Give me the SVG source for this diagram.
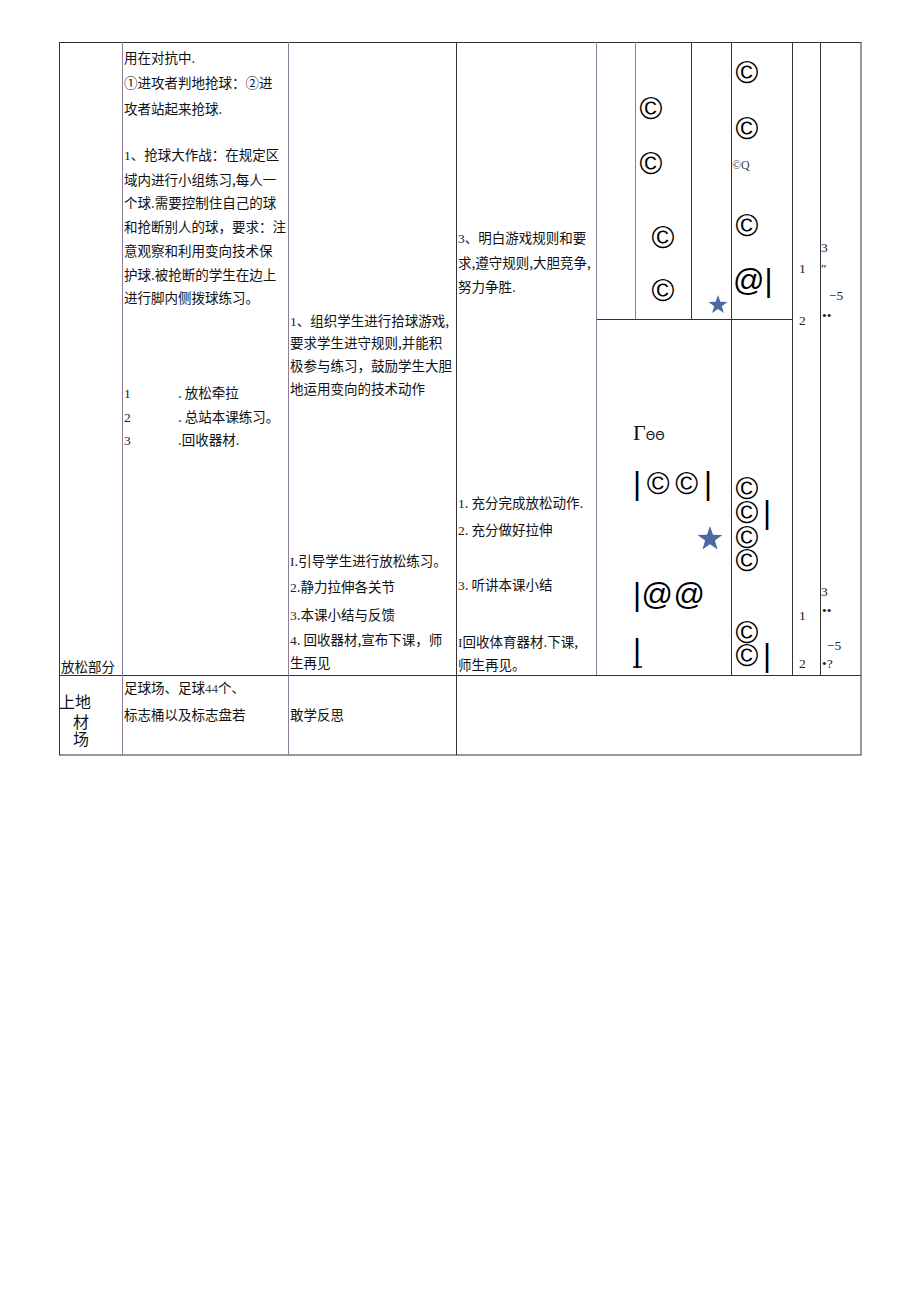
<svg xmlns="http://www.w3.org/2000/svg" width="920" height="1301" viewBox="0 0 920 1301">
<style>
.t{font-family:"Noto Sans CJK SC","Noto Sans",sans-serif;font-size:13.5px;fill:#111}
.s{font-family:"Liberation Serif",serif;font-size:13.5px;fill:#222}
.g{font-family:"Liberation Serif",serif;font-size:13px;fill:#444}
.c{font-family:"Liberation Sans",sans-serif;font-size:31px;fill:#000}
.ln{stroke:#333;stroke-width:1;fill:none}
.lp{stroke:#8e7d98;stroke-width:1;fill:none}
.star{fill:#4a6aa3}
</style>
<rect width="920" height="1301" fill="#fff"/>
<g id="connectors">
<rect class="ln" x="59.5" y="42.5" width="801.5" height="712.5"/>
<line class="ln" x1="59" y1="675.5" x2="861" y2="675.5"/>
<line class="ln" x1="596" y1="319.5" x2="792" y2="319.5"/>
<line class="lp" x1="122.5" y1="42" x2="122.5" y2="755"/>
<line class="lp" x1="288.5" y1="42" x2="288.5" y2="755"/>
<line class="ln" x1="456.5" y1="42" x2="456.5" y2="755"/>
<line class="lp" x1="596.5" y1="42" x2="596.5" y2="675"/>
<line class="lp" x1="635.5" y1="42" x2="635.5" y2="319"/>
<line class="ln" x1="691.5" y1="42" x2="691.5" y2="319"/>
<line class="ln" x1="731.5" y1="42" x2="731.5" y2="675"/>
<line class="ln" x1="792.5" y1="42" x2="792.5" y2="675"/>
<line class="ln" x1="820.5" y1="42" x2="820.5" y2="675"/>
</g>
<g id="col-content">
<text class="t" x="124" y="63">用在对抗中.</text>
<text class="t" x="124" y="88">①进攻者判地抢球：②进</text>
<text class="t" x="124" y="114">攻者站起来抢球.</text>
<text class="t" x="124" y="160"><tspan class="s">1</tspan>、抢球大作战：在规定区</text>
<text class="t" x="124" y="185">域内进行小组练习,每人一</text>
<text class="t" x="124" y="208">个球.需要控制住自己的球</text>
<text class="t" x="124" y="232">和抢断别人的球，要求：注</text>
<text class="t" x="124" y="256">意观察和利用变向技术保</text>
<text class="t" x="124" y="280">护球.被抢断的学生在边上</text>
<text class="t" x="124" y="303">进行脚内侧拨球练习。</text>
<text class="s" x="124" y="398">1</text><text class="t" x="178" y="398">. 放松牵拉</text>
<text class="s" x="124" y="422">2</text><text class="t" x="178" y="422">. 总站本课练习。</text>
<text class="s" x="124" y="445">3</text><text class="t" x="178" y="445">.回收器材.</text>
</g>
<g id="col-section">
<text class="t" x="61" y="672">放松部分</text>
</g>
<g id="col-teacher">
<text class="t" x="290" y="326"><tspan class="s">1</tspan>、组织学生进行拾球游戏,</text>
<text class="t" x="290" y="348">要求学生进守规则,并能积</text>
<text class="t" x="290" y="371">极参与练习，鼓励学生大胆</text>
<text class="t" x="290" y="394">地运用变向的技术动作</text>
<text class="t" x="290" y="566"><tspan class="s">I</tspan>.引导学生进行放松练习。</text>
<text class="t" x="290" y="592"><tspan class="s">2</tspan>.静力拉伸各关节</text>
<text class="t" x="290" y="620"><tspan class="s">3</tspan>.本课小结与反馈</text>
<text class="t" x="290" y="645"><tspan class="s">4</tspan>. 回收器材,宣布下课，师</text>
<text class="t" x="290" y="668">生再见</text>
</g>
<g id="col-student">
<text class="t" x="458" y="243"><tspan class="s">3</tspan>、明白游戏规则和要</text>
<text class="t" x="458" y="268">求,遵守规则,大胆竞争,</text>
<text class="t" x="458" y="292">努力争胜.</text>
<text class="t" x="458" y="508"><tspan class="s">1</tspan>. 充分完成放松动作.</text>
<text class="t" x="458" y="535"><tspan class="s">2</tspan>. 充分做好拉伸</text>
<text class="t" x="458" y="590"><tspan class="s">3</tspan>. 听讲本课小结</text>
<text class="t" x="458" y="647"><tspan class="s">I</tspan>回收体育器材.下课,</text>
<text class="t" x="458" y="670">师生再见。</text>
</g>
<g id="diagram-top">
<text class="c" x="651" y="119" text-anchor="middle">©</text>
<text class="c" x="651" y="174" text-anchor="middle">©</text>
<text class="c" x="663" y="248" text-anchor="middle">©</text>
<text class="c" x="663" y="301" text-anchor="middle">©</text>
<path class="star" transform="translate(718,305)" d="M0,-10 L2.35,-3.2 9.5,-3.1 3.8,1.2 5.9,8.1 0,4 -5.9,8.1 -3.8,1.2 -9.5,-3.1 -2.35,-3.2Z"/>
<text class="c" x="747" y="83" text-anchor="middle">©</text>
<text class="c" x="747" y="139" text-anchor="middle">©</text>
<text class="g" x="732" y="169" style="font-size:12px">©Q</text>
<text class="c" x="747" y="236" text-anchor="middle">©</text>
<text class="c" x="733" y="291">@|</text>
</g>
<g id="diagram-bottom">
<text x="633" y="440" style="font-family:'Liberation Serif',serif;font-size:22px;fill:#111">Γ<tspan style="font-family:'DejaVu Sans',sans-serif;font-size:12px">ΘΘ</tspan></text>
<text class="c" x="633" y="494" textLength="79" lengthAdjust="spacing">|©©|</text>
<path class="star" transform="translate(710,539)" d="M0,-13 L3.05,-4.2 12.4,-4 4.9,1.6 7.6,10.5 0,5.2 -7.6,10.5 -4.9,1.6 -12.4,-4 -3.05,-4.2Z"/>
<text class="c" x="633" y="605" textLength="72" lengthAdjust="spacing">|@@</text>
<text class="c" x="633" y="661">|</text>
<line x1="633" y1="667" x2="642" y2="667" stroke="#000" stroke-width="1.5"/>
<text class="c" text-anchor="middle"><tspan x="747" y="499">©</tspan><tspan x="747" y="523">©</tspan><tspan x="763" y="523" text-anchor="start">|</tspan><tspan x="747" y="548">©</tspan><tspan x="747" y="571">©</tspan></text>
<text class="c" text-anchor="middle"><tspan x="747" y="643">©</tspan><tspan x="747" y="666">©</tspan><tspan x="763" y="666" text-anchor="start">|</tspan></text>
</g>
<g id="col-time">
<text class="s" x="799" y="273">1</text>
<text class="s" x="799" y="325">2</text>
<text class="s" x="799" y="620">1</text>
<text class="s" x="799" y="668">2</text>
</g>
<g id="col-count">
<text class="s" x="821" y="252">3</text>
<text class="s" x="821" y="273">″</text>
<text class="s" x="829" y="300">−5</text>
<text class="s" x="822" y="320">••</text>
<text class="s" x="821" y="596">3</text>
<text class="s" x="822" y="615">••</text>
<text class="s" x="827" y="650">−5</text>
<text class="s" x="822" y="668">•?</text>
</g>
<g id="row-equipment">
<text class="t" style="font-size:16px"><tspan x="59" y="708">上地</tspan><tspan x="73" y="728">材</tspan><tspan x="73" y="745">场</tspan></text>
<text class="t" x="124" y="693">足球场、足球<tspan class="g">44</tspan>个、</text>
<text class="t" x="124" y="720">标志桶以及标志盘若</text>
<text class="t" x="290" y="720">敢学反思</text>
</g>
</svg>
